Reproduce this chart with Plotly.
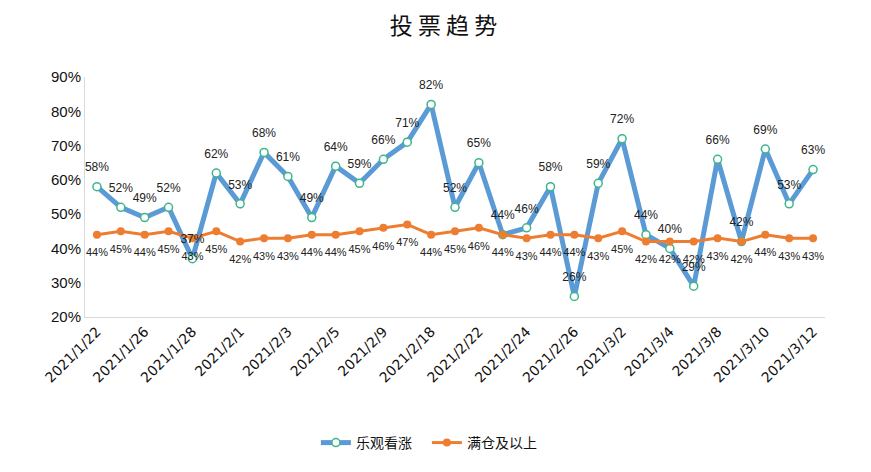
import plotly.graph_objects as go

dates = ["2021/1/22", "2021/1/25", "2021/1/26", "2021/1/27", "2021/1/28", "2021/1/29",
         "2021/2/1", "2021/2/2", "2021/2/3", "2021/2/4", "2021/2/5", "2021/2/8",
         "2021/2/9", "2021/2/10", "2021/2/18", "2021/2/19", "2021/2/22", "2021/2/23",
         "2021/2/24", "2021/2/25", "2021/2/26", "2021/3/1", "2021/3/2", "2021/3/3",
         "2021/3/4", "2021/3/5", "2021/3/8", "2021/3/9", "2021/3/10", "2021/3/11",
         "2021/3/12"]
optimistic = [58, 52, 49, 52, 37, 62, 53, 68, 61, 49, 64, 59, 66, 71, 82, 52,
              65, 44, 46, 58, 26, 59, 72, 44, 40, 29, 66, 42, 69, 53, 63]
full_pos = [44, 45, 44, 45, 43, 45, 42, 43, 43, 44, 44, 45, 46, 47, 44, 45,
            46, 44, 43, 44, 44, 43, 45, 42, 42, 42, 43, 42, 44, 43, 43]
tick_labels = dates[::2]

blue_y = [v / 100 for v in optimistic]
orange_y = [v / 100 for v in full_pos]

fig = go.Figure()
fig.add_trace(go.Scatter(
    x=dates, y=blue_y, name="乐观看涨",
    mode="lines+markers",
    line=dict(color="#5b9bd5", width=5),
    marker=dict(size=8, color="white", line=dict(color="#3db68a", width=1.5)),
))
fig.add_trace(go.Scatter(
    x=dates, y=orange_y, name="满仓及以上",
    mode="lines+markers",
    line=dict(color="#ed7d31", width=3),
    marker=dict(size=8, color="#ed7d31"),
))
# data labels (invisible larger markers push labels further from the points)
fig.add_trace(go.Scatter(
    x=dates, y=blue_y, mode="markers+text", showlegend=False, hoverinfo="skip",
    marker=dict(size=18, color="rgba(0,0,0,0)"),
    text=[f"{v}%" for v in optimistic], textposition="top center",
    textfont=dict(family="Liberation Sans", size=12, color="#222222"),
    cliponaxis=False,
))
fig.add_trace(go.Scatter(
    x=dates, y=orange_y, mode="markers+text", showlegend=False, hoverinfo="skip",
    marker=dict(size=20, color="rgba(0,0,0,0)"),
    text=[f"{v}%" for v in full_pos], textposition="bottom center",
    textfont=dict(family="Liberation Sans", size=11, color="#222222"),
    cliponaxis=False,
))

fig.update_layout(
    width=871, height=472,
    margin=dict(l=77, r=54, t=69, b=163),
    paper_bgcolor="white", plot_bgcolor="white",
    title=dict(text="投 票 趋 势", x=0.5, xanchor="center", y=0.962, yanchor="middle",
               font=dict(family="Noto Sans CJK SC", size=23, color="#111111")),
    showlegend=True,
    legend=dict(orientation="h", x=0.462, xanchor="center", y=-0.525, yanchor="middle",
                entrywidth=66,
                font=dict(family="Noto Sans CJK SC", size=14, color="#111111")),
    font=dict(family="Liberation Sans"),
)
fig.update_xaxes(
    type="category", range=[-0.5, len(dates) - 0.5],
    tickmode="array", tickvals=tick_labels, ticktext=tick_labels,
    tickangle=-45, showgrid=False, showline=True, linecolor="#d9d9d9",
    ticks="", tickfont=dict(family="DejaVu Sans", size=14, color="#111111"),
)
fig.update_yaxes(
    range=[0.2, 0.9], dtick=0.1, tickformat=".0%",
    showgrid=False, showline=True, linecolor="#d9d9d9", zeroline=False,
    ticks="", tickfont=dict(family="Liberation Sans", size=15, color="#111111"),
)

fig.write_html("out.html")
